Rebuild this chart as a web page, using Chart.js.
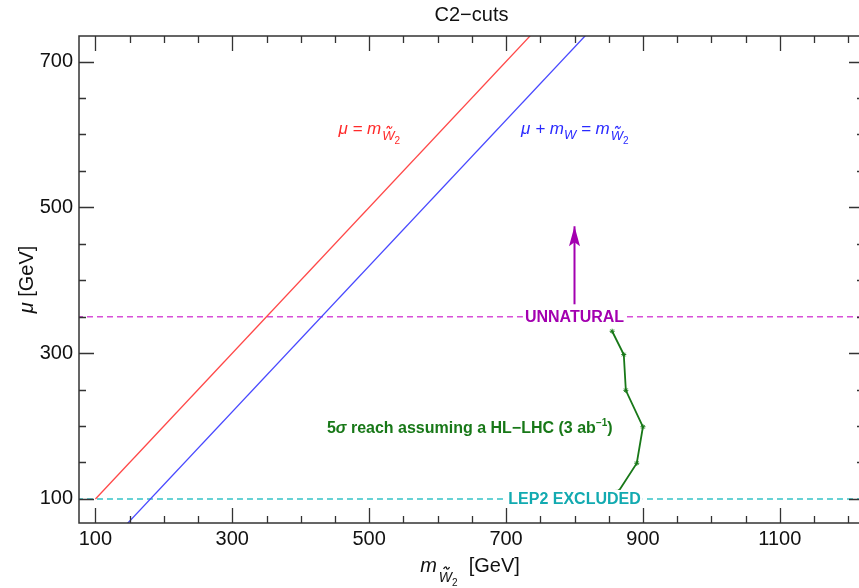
<!DOCTYPE html>
<html>
<head>
<meta charset="utf-8">
<script src="https://cdn.jsdelivr.net/npm/chart.js@4.4.1/dist/chart.umd.min.js"></script>
<style>
  html, body { margin: 0; padding: 0; background: #fff; overflow: hidden; }
  #wrap { width: 870px; height: 588px; }
</style>
</head>
<body>
<div id="wrap"><canvas id="c2cuts" width="870" height="588"></canvas></div>
<script>
// axis ranges and tick labels
const xTickValues = [100, 300, 500, 700, 900, 1100];
const yTickValues = [100, 300, 500, 700];
const xRange = [76, 1223];
const yRange = [67, 735];

// mu = m_W2
const naturalX = [100, 800];
const naturalY = [100, 800];
// mu + m_W = m_W2
const wLineX = [100, 900];
const wLineY = [19.6, 819.6];

// horizontal limits
const limitX = [0, 1300];
const unnaturalY = [350, 350];
const lep2Y = [100, 100];

// 5 sigma HL-LHC reach
const reachX = [855, 872, 875, 900, 891, 864];
const reachY = [330, 298, 249, 199, 149, 110];

// arrow above "UNNATURAL"
const arrowX = [800, 800];
const arrowY = [367, 474];

const FONT = '"Liberation Sans", Arial, Helvetica, sans-serif';

const toPoints = (xs, ys) => xs.map((x, i) => ({ x: x, y: ys[i] }));

// draw a run of text pieces (sub/superscripts, tilde accents)
function richText(ctx, x, y, parts, color, align) {
  let total = 0;
  parts.forEach((p) => {
    ctx.font = `${p.style || ""} ${p.size}px ${FONT}`;
    p.w = ctx.measureText(p.t).width;
    total += p.w + (p.gap || 0);
  });
  let cx = align === "center" ? x - total / 2 : x;
  ctx.fillStyle = color;
  ctx.strokeStyle = color;
  ctx.textBaseline = "alphabetic";
  ctx.textAlign = "left";
  parts.forEach((p) => {
    cx += p.gap || 0;
    ctx.font = `${p.style || ""} ${p.size}px ${FONT}`;
    ctx.fillText(p.t, cx, y + (p.dy || 0));
    if (p.tilde) {
      // small tilde over the letter
      const tw = p.size * 0.42;
      const tx = cx + p.w / 2 - tw / 2 + p.size * 0.08;
      const ty = y + (p.dy || 0) - p.size * 1.0;
      const a = p.size * 0.08;
      ctx.lineWidth = Math.max(1, p.size * 0.09);
      ctx.beginPath();
      ctx.moveTo(tx, ty + a);
      ctx.bezierCurveTo(tx + tw * 0.25, ty - 2 * a, tx + tw * 0.5, ty - a, tx + tw * 0.5, ty);
      ctx.bezierCurveTo(tx + tw * 0.5, ty + a, tx + tw * 0.75, ty + 2 * a, tx + tw, ty - a);
      ctx.stroke();
    }
    cx += p.w;
  });
  return total;
}

function boxedLabel(ctx, text, px, py, color) {
  ctx.font = `bold 16px ${FONT}`;
  const w = ctx.measureText(text).width;
  ctx.fillStyle = "#fff";
  ctx.fillRect(px - w / 2 - 2, py - 9, w + 4, 18);
  ctx.fillStyle = color;
  ctx.textAlign = "center";
  ctx.textBaseline = "middle";
  ctx.fillText(text, px, py + 1);
}

const decorations = {
  id: "decorations",
  beforeDraw(chart) {
    const ctx = chart.ctx;
    ctx.save();
    ctx.fillStyle = "#fff";
    ctx.fillRect(0, 0, chart.width, chart.height);
    ctx.restore();
  },
  afterDatasetsDraw(chart) {
    const ctx = chart.ctx;
    const xs = chart.scales.x;
    const ys = chart.scales.y;
    ctx.save();

    // arrow head
    const tipX = xs.getPixelForValue(arrowX[1]);
    const tipY = ys.getPixelForValue(arrowY[1]);
    ctx.fillStyle = "#a300b0";
    ctx.beginPath();
    ctx.moveTo(tipX, tipY);
    ctx.lineTo(tipX - 5.5, tipY + 20);
    ctx.lineTo(tipX, tipY + 16);
    ctx.lineTo(tipX + 5.5, tipY + 20);
    ctx.closePath();
    ctx.fill();

    boxedLabel(ctx, "UNNATURAL", xs.getPixelForValue(800), ys.getPixelForValue(unnaturalY[0]), "#a300b0");
    boxedLabel(ctx, "LEP2 EXCLUDED", xs.getPixelForValue(800), ys.getPixelForValue(lep2Y[0]), "#12aab0");

    // reach label
    richText(ctx, xs.getPixelForValue(647), ys.getPixelForValue(198) + 6, [
      { t: "5", size: 16, style: "bold" },
      { t: "σ", size: 16, style: "italic bold" },
      { t: " reach assuming a HL\u2212LHC (3 ab", size: 16, style: "bold" },
      { t: "\u22121", size: 10, style: "bold", dy: -7 },
      { t: ")", size: 16, style: "bold" }
    ], "#187818", "center");

    // line labels
    richText(ctx, xs.getPixelForValue(455), ys.getPixelForValue(600), [
      { t: "μ = m", size: 17, style: "italic" },
      { t: "W", size: 13, style: "italic", dy: 6, tilde: true, gap: 1 },
      { t: "2", size: 10, dy: 10 }
    ], "#ff2a2a", "left");
    richText(ctx, xs.getPixelForValue(722), ys.getPixelForValue(600), [
      { t: "μ + m", size: 17, style: "italic" },
      { t: "W", size: 13, style: "italic", dy: 5 },
      { t: " = m", size: 17, style: "italic" },
      { t: "W", size: 13, style: "italic", dy: 6, tilde: true, gap: 1 },
      { t: "2", size: 10, dy: 10 }
    ], "#2a2aff", "left");

    ctx.restore();
  },
  afterDraw(chart) {
    const ctx = chart.ctx;
    const xs = chart.scales.x;
    const ys = chart.scales.y;
    const { left, right, top, bottom } = chart.chartArea;
    ctx.save();

    // frame
    ctx.strokeStyle = "#333";
    ctx.lineWidth = 1.5;
    ctx.strokeRect(left, top, right - left, bottom - top);

    // inward ticks on all four sides
    ctx.lineWidth = 1.3;
    ctx.beginPath();
    for (let v = 100; v <= xs.max; v += 50) {
      const px = Math.round(xs.getPixelForValue(v)) + 0.5;
      const len = (v - 100) % 200 === 0 ? 15 : 7;
      ctx.moveTo(px, bottom); ctx.lineTo(px, bottom - len);
      ctx.moveTo(px, top); ctx.lineTo(px, top + len);
    }
    for (let v = 100; v <= ys.max; v += 50) {
      const py = Math.round(ys.getPixelForValue(v)) + 0.5;
      const len = (v - 100) % 200 === 0 ? 15 : 7;
      ctx.moveTo(left, py); ctx.lineTo(left + len, py);
      ctx.moveTo(right, py); ctx.lineTo(right - len, py);
    }
    ctx.stroke();

    // title
    ctx.fillStyle = "#111";
    ctx.font = `20px ${FONT}`;
    ctx.textAlign = "center";
    ctx.textBaseline = "middle";
    ctx.fillText("C2\u2212cuts", (left + right) / 2, 15);

    // x axis title
    richText(ctx, 470, 572, [
      { t: "m", size: 20, style: "italic" },
      { t: "W", size: 14, style: "italic", dy: 10, tilde: true, gap: 2 },
      { t: "2", size: 10, dy: 14 },
      { t: "  [GeV]", size: 20 }
    ], "#111", "center");

    // y axis title
    ctx.translate(26, (top + bottom) / 2);
    ctx.rotate(-Math.PI / 2);
    richText(ctx, 0, 7, [
      { t: "μ", size: 20, style: "italic" },
      { t: " [GeV]", size: 20 }
    ], "#111", "center");

    ctx.restore();
  }
};

const lineDataset = (label, xs, ys, color, extra) => Object.assign({
  label: label,
  data: toPoints(xs, ys),
  showLine: true,
  borderColor: color,
  backgroundColor: color,
  borderWidth: 1.3,
  pointRadius: 0,
  fill: false
}, extra || {});

new Chart(document.getElementById("c2cuts"), {
  type: "scatter",
  data: {
    datasets: [
      lineDataset("mu = m_W2", naturalX, naturalY, "#ff4848"),
      lineDataset("mu + m_W = m_W2", wLineX, wLineY, "#4848ff"),
      lineDataset("unnatural", limitX, unnaturalY, "#d84fd8", { borderDash: [6, 4], borderWidth: 1.5 }),
      lineDataset("LEP2", limitX, lep2Y, "#36c4c8", { borderDash: [6, 4], borderWidth: 1.5 }),
      lineDataset("HL-LHC reach", reachX, reachY, "#187818", {
        borderWidth: 1.8,
        pointRadius: 2.5,
        pointStyle: "star",
        pointBorderWidth: 1
      }),
      lineDataset("arrow", arrowX, arrowY, "#a300b0", { borderWidth: 2 })
    ]
  },
  options: {
    responsive: false,
    animation: false,
    devicePixelRatio: 1,
    layout: { padding: { left: 0, right: 6, top: 36, bottom: 35 } },
    plugins: {
      legend: { display: false },
      title: { display: false },
      tooltip: { enabled: false }
    },
    scales: {
      x: {
        type: "linear",
        min: xRange[0],
        max: xRange[1],
        grid: { display: false, drawTicks: false },
        border: { display: false },
        ticks: {
          font: { family: FONT, size: 20 },
          color: "#111",
          padding: 4,
          maxRotation: 0,
          callback: (v) => String(v)
        },
        afterBuildTicks: (s) => { s.ticks = xTickValues.map((v) => ({ value: v })); },
        afterFit: (s) => { s.height = 30; }
      },
      y: {
        type: "linear",
        min: yRange[0],
        max: yRange[1],
        grid: { display: false, drawTicks: false },
        border: { display: false },
        ticks: {
          font: { family: FONT, size: 20 },
          color: "#111",
          padding: 6,
          callback: (v) => String(v)
        },
        afterBuildTicks: (s) => { s.ticks = yTickValues.map((v) => ({ value: v })); },
        afterFit: (s) => { s.width = 79; }
      }
    }
  },
  plugins: [decorations]
});
</script>
</body>
</html>
